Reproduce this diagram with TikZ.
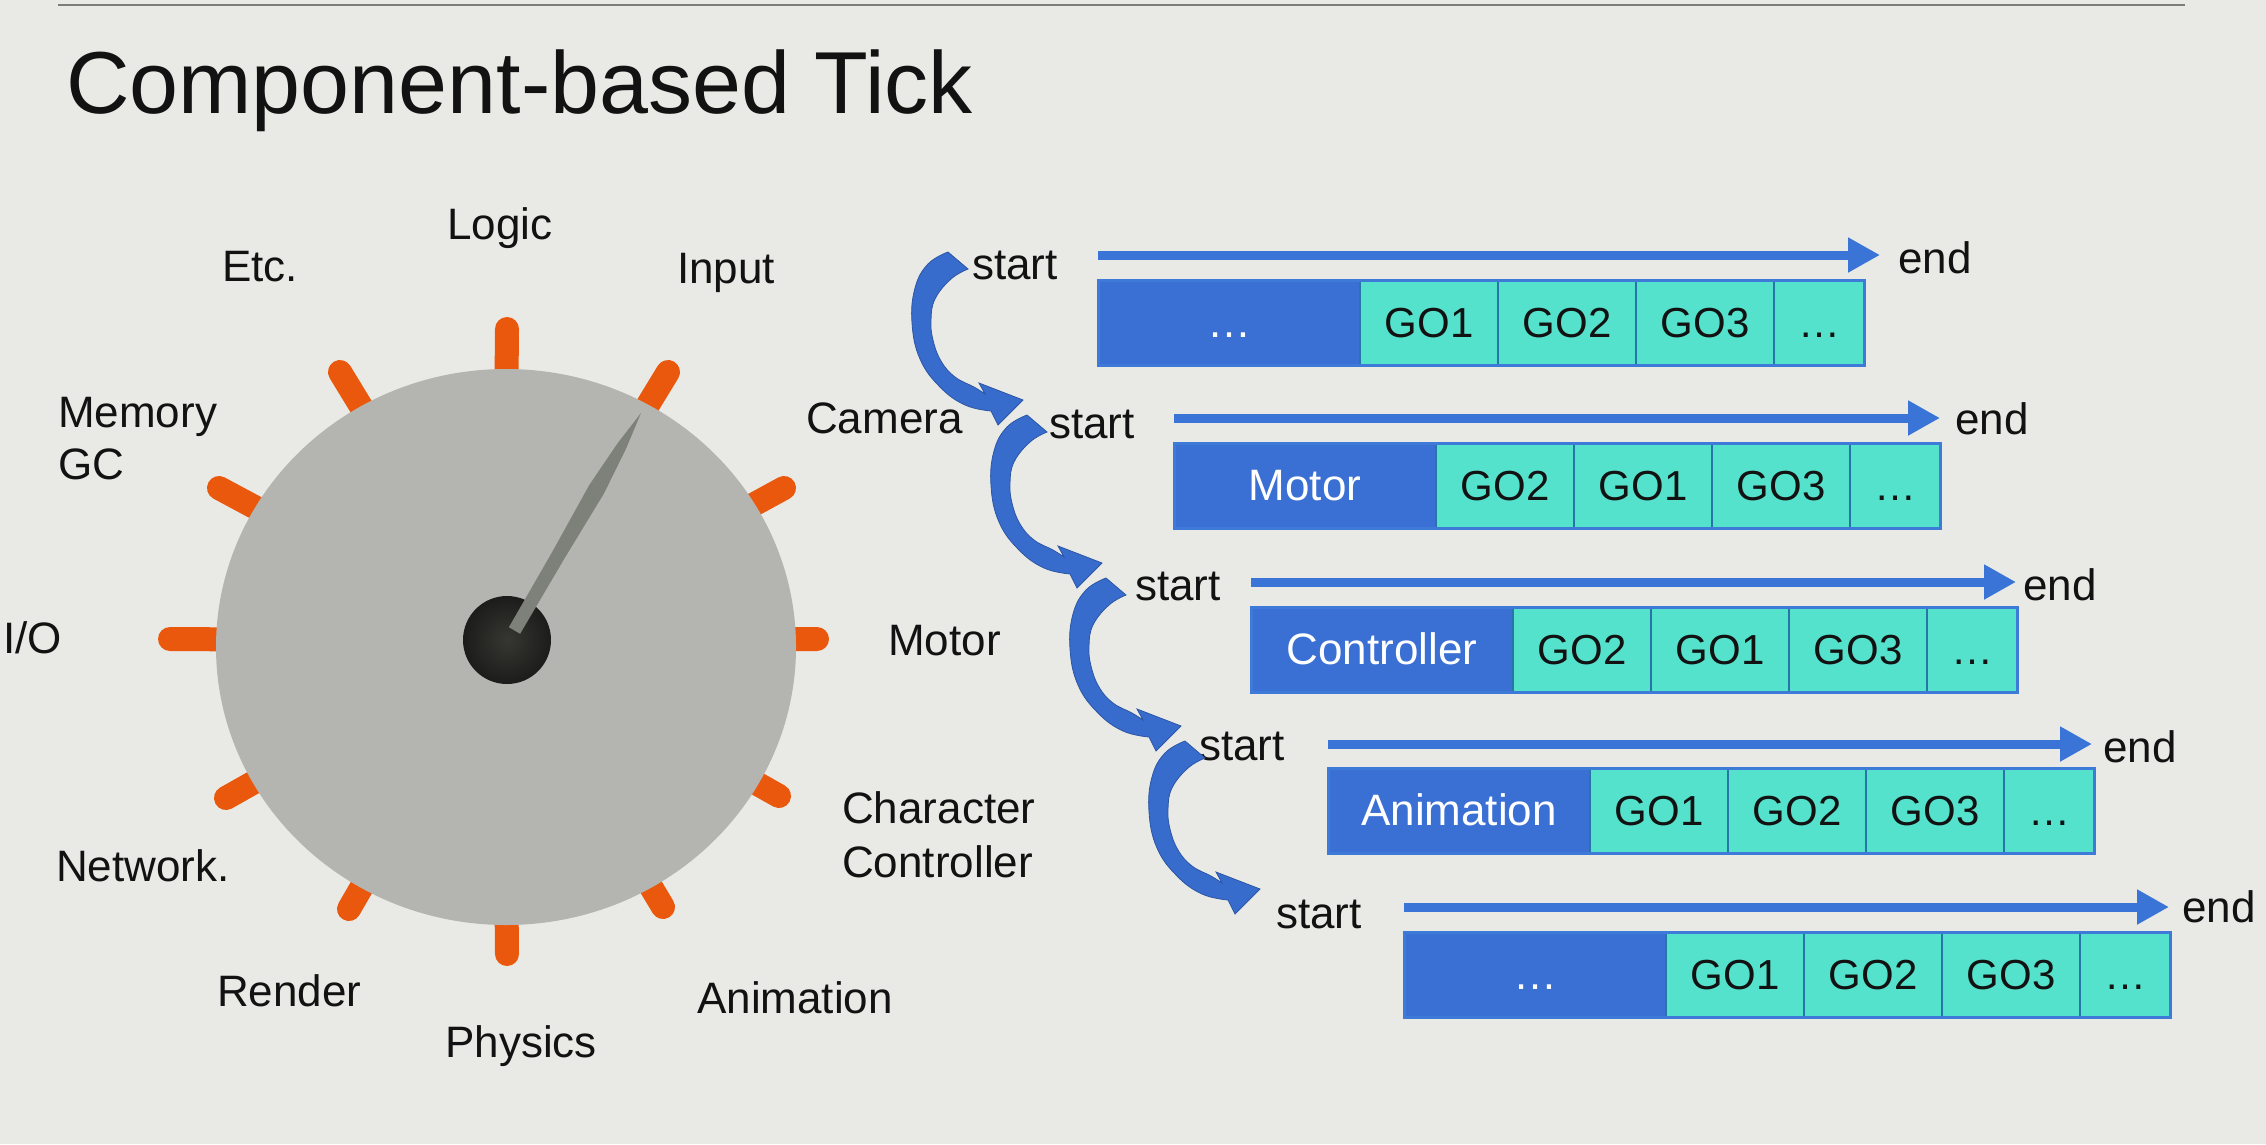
\documentclass[tikz,border=0pt]{standalone}
\usepackage{fontspec}
\setmainfont{Liberation Sans}
\usetikzlibrary{arrows.meta}

\definecolor{bg}{RGB}{233,234,229}
\definecolor{ink}{RGB}{18,18,18}
\definecolor{rulegrey}{RGB}{125,125,122}
\definecolor{dialgrey}{RGB}{180,181,176}
\definecolor{tickorange}{RGB}{234,88,14}
\definecolor{needlegrey}{RGB}{126,128,122}
\definecolor{hubdark}{RGB}{28,28,26}
\definecolor{hublight}{RGB}{54,54,50}
\definecolor{compblue}{RGB}{58,111,211}
\definecolor{flowblue}{RGB}{58,116,214}
\definecolor{bendblue}{RGB}{55,108,205}
\definecolor{goteal}{RGB}{84,226,205}
\definecolor{cellline}{RGB}{40,118,168}
\definecolor{boxline}{RGB}{62,122,216}

\begin{document}
\begin{tikzpicture}[x=1pt,y=-1pt,
  dialtext/.style={anchor=base west, inner sep=0pt, text=ink, font=\fontsize{44}{52}\selectfont},
  tickmark/.style={draw=tickorange, line width=24pt, line cap=round},
  compcell/.style={anchor=north west, minimum height=85pt, inner sep=0pt, outer sep=0pt,
    text height=30pt, text depth=0pt, font=\fontsize{42}{50}\selectfont},
  headcell/.style={compcell, fill=compblue, minimum width=262pt, text=white,
    font=\fontsize{44}{52}\selectfont},
  gocell/.style={compcell, fill=goteal, draw=cellline, line width=2pt, minimum width=138pt, text=ink},
  morecell/.style={gocell, minimum width=90pt},
  flow/.style={draw=flowblue, line width=9pt, -{Triangle[length=32pt,width=33pt]}},
  bendarrow/.pic={
    \fill[bendblue, draw=bendblue!80!black, line width=0.8pt]
      (-2,-5) -- plot[smooth, tension=0.7] coordinates
        {(18,12) (1,22) (-15,42) (-19,63) (-17,83) (-9,104) (5,120) (24,130) (35,137)}
      -- (29,126) -- (73,143) -- (48,168)
      -- plot[smooth, tension=0.7] coordinates
        {(41,154) (15,148) (-10,130) (-30,102) (-38,66) (-35,31) (-22,7) (-2,-5)}
      -- cycle;
  }
]
% page
\fill[bg] (0,0) rectangle (2266,1144);
\useasboundingbox (0,0) rectangle (2266,1144);

% header rule and title
\coordinate (ruleL) at (58,5);
\coordinate (ruleR) at (2185,5);
\draw[rulegrey, line width=2.5pt] (ruleL) -- (ruleR);
\node[anchor=base west, inner sep=0pt, text=ink, font=\fontsize{88}{100}\selectfont]
  (title) at (66,113) {Component-based Tick};

% dial: orange tick marks, face, hub and needle
\foreach \px/\py in {507/329, 668/372, 784/488, 817/639, 779/796, 663/907,
                     507/954, 349/909, 226/798, 170/639, 219/488, 340/372}
  \draw[tickmark] (\px,\py) -- (504,641);
\fill[dialgrey] (506,647) ellipse [x radius=290pt, y radius=278pt];
\shade[inner color=hublight, outer color=hubdark] (507,640) circle [radius=44pt];
\fill[needlegrey] (508.9,627.2) -- (552.8,550.9) -- (589.4,484.8) -- (617.7,443.1)
  -- (641,413) -- (626.3,448.1) -- (604,493.4) -- (564.8,557.9) -- (520.1,633.8) -- cycle;

% dial captions
\node[dialtext] (lab-logic)   at (447,239)  {Logic};
\node[dialtext] (lab-etc)     at (222,281)  {Etc.};
\node[dialtext] (lab-input)   at (677,283)  {Input};
\node[dialtext] (lab-mem)     at (58,427)   {Memory};
\node[dialtext] (lab-gc)      at (58,479)   {GC};
\node[dialtext] (lab-camera)  at (806,433)  {Camera};
\node[dialtext] (lab-io)      at (3,653)    {I/O};
\node[dialtext] (lab-motor)   at (888,655)  {Motor};
\node[dialtext] (lab-char)    at (842,823)  {Character};
\node[dialtext] (lab-ctrl)    at (842,877)  {Controller};
\node[dialtext] (lab-net)     at (56,881)   {Network.};
\node[dialtext] (lab-render)  at (217,1006) {Render};
\node[dialtext] (lab-anim)    at (697,1013) {Animation};
\node[dialtext] (lab-physics) at (445,1057) {Physics};

% component passes, one row per component type
\foreach \i/\L/\T/\hd/\ga/\gb/\gc/\ay/\tip/\sx/\sy/\ex/\ey in {
  1/1098/280/{…}/GO1/GO2/GO3/255/1880/972/279/1898/273,
  2/1174/443/Motor/GO2/GO1/GO3/418/1940/1049/438/1955/434,
  3/1251/607/Controller/GO2/GO1/GO3/582/2016/1135/600/2023/600,
  4/1328/768/Animation/GO1/GO2/GO3/744/2092/1199/760/2103/762,
  5/1404/932/{…}/GO1/GO2/GO3/907/2169/1276/928/2182/922}
{
  \node[headcell] (r\i-head) at (\L,\T) {\hd};
  \node[gocell]   (r\i-g1)   at (r\i-head.north east) {\ga};
  \node[gocell]   (r\i-g2)   at (r\i-g1.north east) {\gb};
  \node[gocell]   (r\i-g3)   at (r\i-g2.north east) {\gc};
  \node[morecell] (r\i-more) at (r\i-g3.north east) {…};
  \draw[boxline, line width=3pt] (r\i-head.north west) rectangle (r\i-more.south east);
  \coordinate (r\i-from) at (\L,\ay);
  \coordinate (r\i-to)   at (\tip,\ay);
  \draw[flow] (r\i-from) -- (r\i-to);
  \node[dialtext] (r\i-start) at (\sx,\sy) {start};
  \node[dialtext] (r\i-end)   at (\ex,\ey) {end};
}

% bent arrows handing over from one pass to the next
\foreach \k in {0,...,3}
  \pic (turn\k) at ({950+79*\k},{257+163*\k}) {bendarrow};
\end{tikzpicture}
\end{document}
